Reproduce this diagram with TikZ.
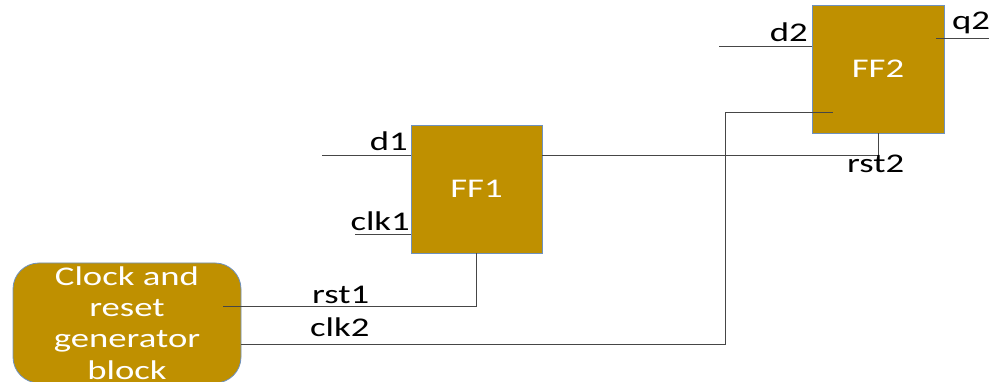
\documentclass[tikz,border=0pt]{standalone}
\usepackage{fontspec}
\setmainfont{Carlito}[FakeStretch=1.36]
\definecolor{ffgold}{RGB}{191,144,0}
\definecolor{ffedge}{RGB}{110,145,190}
\definecolor{wiregray}{RGB}{70,70,70}
\tikzset{
  ffbox/.style={draw=ffedge,fill=ffgold,line width=.8pt,text=white,inner sep=0pt},
  genbox/.style={ffbox,rounded corners=26pt,align=center},
  wire/.style={draw=wiregray,line width=.8pt},
  lbl/.style={inner sep=0pt,text=black}
}
\begin{document}
\begin{tikzpicture}[x=1pt,y=-1pt,font=\fontsize{27}{31.2}\selectfont]
\useasboundingbox (0,0) rectangle (994,382);
% blocks
\node[ffbox,minimum width=131pt,minimum height=128pt] (ff1) at (476.5,189) {FF1};
\node[ffbox,minimum width=132pt,minimum height=128pt] (ff2) at (878,69) {FF2};
\node[genbox,minimum width=228pt,minimum height=120pt] (gen) at (127,323)
     {\raisebox{2pt}[0pt][0pt]{}Clock and\\reset\\generator\\block};
% free ends
\coordinate (d1in)   at (322,155);
\coordinate (clk1in) at (355,234);
\coordinate (d2in)   at (719,46);
\coordinate (q2src)  at (936,38);
\coordinate (q2out)  at (989,38);
\coordinate (rst1src) at (223,306);
\coordinate (clk2src) at (241,344);
\coordinate (clk2bend) at (725,112);
\coordinate (clk2dst) at (833,112);
% wires
\draw[wire] (d1in) -- (d1in -| ff1.west)
            (clk1in) -- (clk1in -| ff1.west)
            (d1in -| ff1.east) -- (d1in -| ff2.south) -- (ff2.south)
            (rst1src) -| (ff1.south)
            (clk2src) -| (clk2bend) -- (clk2dst)
            (d2in) -- (d2in -| ff2.west)
            (q2src) -- (q2out);
% labels
\node[lbl,anchor=base east] (d1)   at (408,151) {d1};
\node[lbl,anchor=base east] (clk1) at (410,231) {clk1};
\node[lbl,anchor=base east] (d2)   at (808,42)  {d2};
\node[lbl,anchor=base west] (q2)   at (952,30)  {q2};
\node[lbl,anchor=base west] (rst2) at (847,173) {rst2};
\node[lbl,anchor=base west] (rst1) at (312,304) {rst1};
\node[lbl,anchor=base west] (clk2) at (310,336) {clk2};
\end{tikzpicture}
\end{document}
